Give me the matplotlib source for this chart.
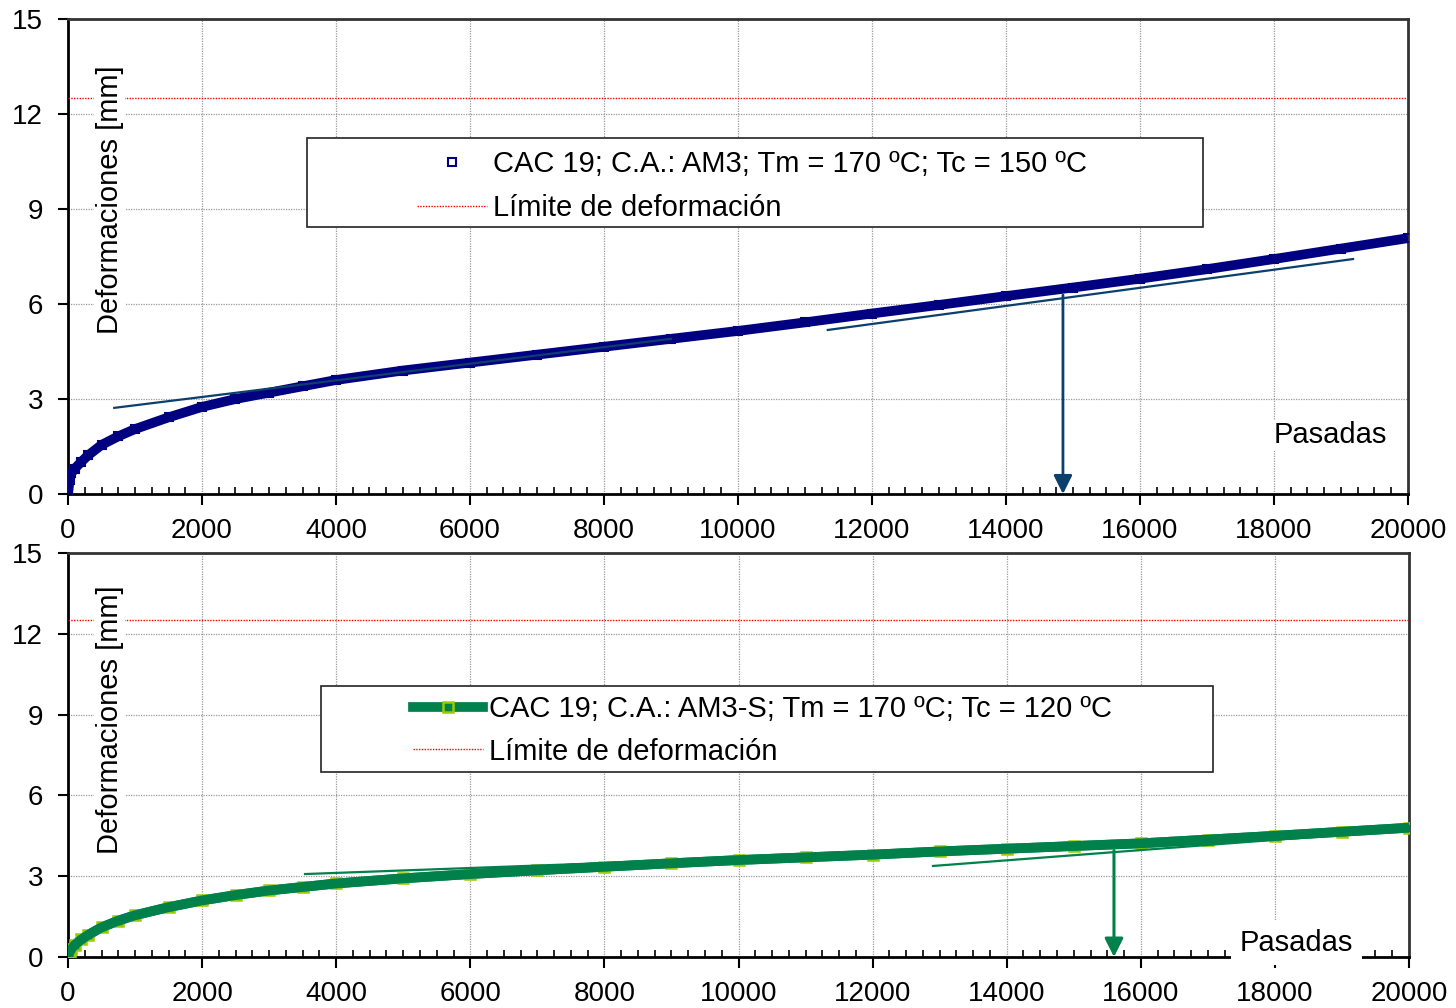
import matplotlib
matplotlib.use('Agg')
import matplotlib.pyplot as plt
from matplotlib.patches import Rectangle
from matplotlib.ticker import MultipleLocator

plt.rcParams['font.family'] = ['Liberation Sans', 'DejaVu Sans']

# pasadas (passes)
passes = [0, 25, 50, 100, 200, 300, 500, 750, 1000, 1500, 2000, 2500, 3000, 3500,
          4000, 5000, 6000, 7000, 8000, 9000, 10000, 11000, 12000, 13000, 14000,
          15000, 16000, 17000, 18000, 19000, 20000]

# top panel: AM3, Tc = 150
def_am3 = [0, 0.45, 0.65, 0.8, 1.02, 1.22, 1.55, 1.82, 2.05, 2.42, 2.75, 3.0, 3.2, 3.4,
           3.6, 3.9, 4.15, 4.4, 4.65, 4.9, 5.15, 5.42, 5.7, 5.97, 6.25, 6.52, 6.8,
           7.1, 7.42, 7.75, 8.08]
# bottom panel: AM3-S, Tc = 120
def_am3s = [0, 0.2, 0.3, 0.45, 0.65, 0.82, 1.1, 1.35, 1.55, 1.85, 2.1, 2.3, 2.47, 2.6,
            2.73, 2.92, 3.08, 3.22, 3.35, 3.48, 3.6, 3.7, 3.8, 3.92, 4.02, 4.12, 4.22,
            4.36, 4.5, 4.65, 4.8]

limit = 12.5

# tangent lines (x0, y0, x1, y1) and arrow (x, y) for each panel
tang_am3 = [(690, 2.72, 9000, 4.9), (11340, 5.18, 19180, 7.42)]
arrow_am3 = (14850, 6.28)
tang_am3s = [(3535, 3.08, 16500, 4.26), (12900, 3.38, 20000, 4.73)]
arrow_am3s = (15600, 3.95)

label_am3 = 'CAC 19; C.A.: AM3; Tm = 170 ºC; Tc = 150 ºC'
label_am3s = 'CAC 19; C.A.: AM3-S; Tm = 170 ºC; Tc = 120 ºC'
label_lim = 'Límite de deformación'

navy = '#000080'
teal = '#0b3f6e'
green = '#00804a'
ygreen = '#99cc00'

fig = plt.figure(figsize=(14.56, 10.08), dpi=100)
ax1 = fig.add_axes([68/1456, 1-494/1008, 1340/1456, 475/1008])
ax2 = fig.add_axes([68/1456, 1-957/1008, 1341/1456, 404/1008])


def style(ax):
    ax.set_xlim(0, 20000)
    ax.set_ylim(0, 15)
    ax.xaxis.set_major_locator(MultipleLocator(2000))
    ax.xaxis.set_minor_locator(MultipleLocator(250))
    ax.yaxis.set_major_locator(MultipleLocator(3))
    ax.grid(True, which='major', color='#9a9a9a', linestyle=(0, (1, 1)), linewidth=0.9)
    ax.tick_params(axis='x', which='major', direction='out', length=8, width=1.5,
                   labelsize=20, pad=9)
    ax.tick_params(axis='x', which='minor', direction='in', length=5, width=1.2)
    ax.tick_params(axis='y', which='major', direction='out', length=7, width=1.5,
                   labelsize=20, pad=11)
    for s in ax.spines.values():
        s.set_linewidth(2)
        s.set_color('#333333')
    ax.spines['bottom'].set_color('black')
    ax.spines['left'].set_color('black')


def legend_box(ax, rect, anchor, handles, labels, spacing, fs=21):
    ax.add_patch(Rectangle((rect[0], rect[1]), rect[2], rect[3], transform=ax.transAxes,
                           facecolor='white', edgecolor='#222222', linewidth=1.2, zorder=8))
    leg = ax.legend(handles, labels, loc='upper left', bbox_to_anchor=anchor,
                    frameon=False, fontsize=fs, borderpad=0, borderaxespad=0,
                    handlelength=2.4, handletextpad=0.2, labelspacing=spacing,
                    numpoints=1)
    leg.set_zorder(9)


# ---- top panel
style(ax1)
ax1.axhline(limit, color='red', linestyle=(0, (1, 1)), linewidth=1.0, zorder=3)
ax1.plot(passes, def_am3, color=navy, linewidth=7, zorder=4, solid_capstyle='butt')
pts1, = ax1.plot(passes, def_am3, 's', color=navy, mfc='none', mec=navy, ms=6, mew=1.5,
                 zorder=4)
for x0, y0, x1, y1 in tang_am3:
    ax1.plot([x0, x1], [y0, y1], color=teal, linewidth=1.6, zorder=5)
ax1.annotate('', xy=(arrow_am3[0], 0), xytext=arrow_am3,
             arrowprops=dict(arrowstyle='-|>', color=teal, lw=2, mutation_scale=28,
                             shrinkA=0, shrinkB=0), zorder=6)
lim1, = ax1.plot([], [], color='red', linestyle=(0, (1, 1)), linewidth=1.0)
legend_box(ax1, (239/1340, 267/475, 896/1340, 89/475), (349/1340, 344/475),
           [pts1, lim1], [label_am3, label_lim], 0.55)
ax1.text(0.031, 0.619, 'Deformaciones [mm]', rotation=90, transform=ax1.transAxes,
         ha='center', va='center', fontsize=21, zorder=7,
         bbox=dict(facecolor='white', edgecolor='none', pad=1))
ax1.text(0.942, 0.124, 'Pasadas', transform=ax1.transAxes, ha='center', va='center',
         fontsize=21, zorder=7, bbox=dict(facecolor='white', edgecolor='none', pad=1))

# ---- bottom panel
style(ax2)
ax2.axhline(limit, color='red', linestyle=(0, (1, 1)), linewidth=1.0, zorder=3)
line2, = ax2.plot(passes, def_am3s, color=green, linewidth=7, marker='s', ms=7,
                  mfc=green, mec=ygreen, mew=1.8, zorder=4)
ax2.plot(passes, def_am3s, color=green, linewidth=7, zorder=4.5)
for x0, y0, x1, y1 in tang_am3s:
    ax2.plot([x0, x1], [y0, y1], color=green, linewidth=1.6, zorder=5)
ax2.annotate('', xy=(arrow_am3s[0], 0), xytext=arrow_am3s,
             arrowprops=dict(arrowstyle='-|>', color=green, lw=2.2, mutation_scale=28,
                             shrinkA=0, shrinkB=0), zorder=6)
lim2, = ax2.plot([], [], color='red', linestyle=(0, (1, 1)), linewidth=1.0)
legend_box(ax2, (253/1341, 185/404, 892/1341, 86/404), (345/1341, 262/404),
           [line2, lim2], [label_am3s, label_lim], 0.5)
ax2.text(0.031, 0.587, 'Deformaciones [mm]', rotation=90, transform=ax2.transAxes,
         ha='center', va='center', fontsize=21, zorder=7,
         bbox=dict(facecolor='white', edgecolor='none', pad=1))
ax2.text(0.916, 0.035, 'Pasadas', transform=ax2.transAxes, ha='center', va='center',
         fontsize=21, zorder=7, clip_on=False,
         bbox=dict(facecolor='white', edgecolor='none', pad=6))

fig.savefig('out.png', dpi=100)
